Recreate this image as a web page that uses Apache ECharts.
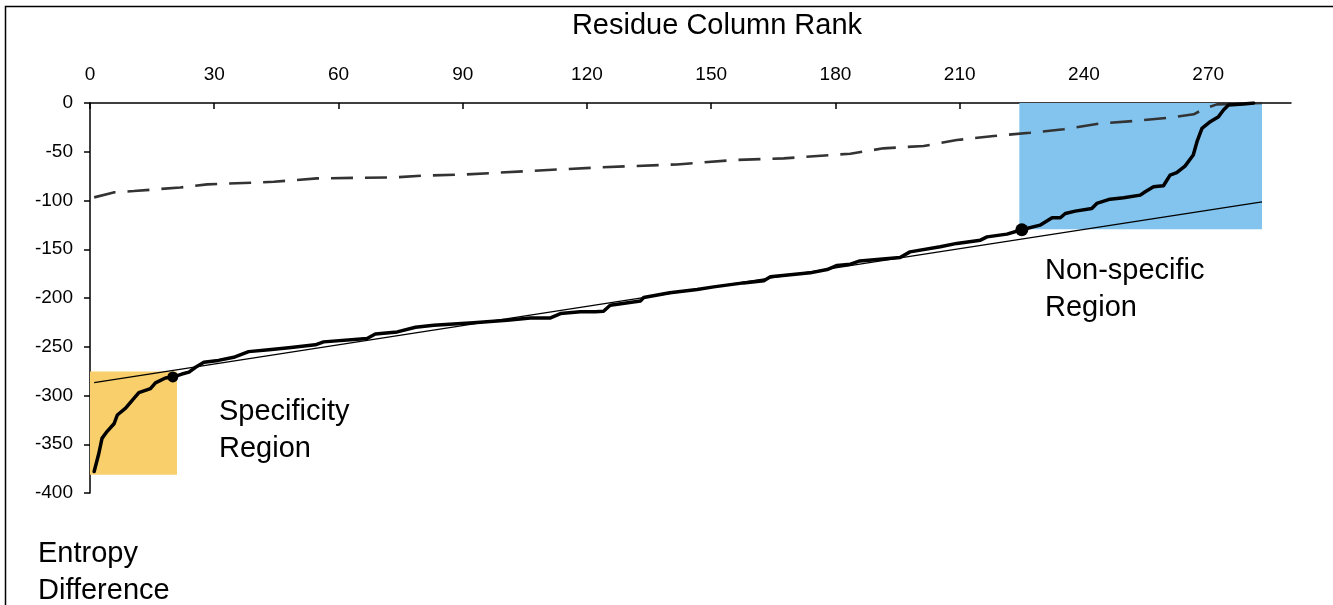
<!DOCTYPE html>
<html>
<head>
<meta charset="utf-8">
<script src="https://cdn.jsdelivr.net/npm/echarts@6/dist/echarts.min.js"></script>
<style>
html,body{margin:0;padding:0;background:#fff;}
#c{width:1333px;height:605px;}
</style>
</head>
<body>
<div id="c"></div>
<script>
// Thick curve: entropy difference vs residue column rank
const entropyCurve = [
  [1,-378],[2.1,-360],[2.9,-344],[4.1,-337],[5.8,-329],[6.6,-320],[8.6,-313],[10.6,-303],
  [11.8,-297],[14.6,-293],[15.8,-287],[18.2,-282],[20,-281],[22.2,-278],[23.9,-276],
  [25.5,-271],[27.5,-266],[31,-264],[35,-260.5],[38.3,-255],[43.2,-253],[48,-251],
  [54.4,-248],[56.4,-245],[66.9,-241.6],[68.9,-237],[74.2,-234.8],[78.6,-230],[83,-228],
  [92.6,-225.5],[100.7,-222.8],[106.3,-220.4],[111.2,-220.4],[113.6,-216],[118.4,-214],
  [122,-214],[124,-213.6],[125.6,-207.4],[132.9,-203],[133.7,-199.5],[140,-194.7],
  [146.6,-191.3],[150.6,-188.6],[157.8,-184.5],[162.7,-182.4],[164.3,-178.3],[173.9,-174.2],
  [178,-170.8],[180.4,-166.6],[183.6,-165.3],[185.9,-162],[195.6,-158.4],[198,-152.7],
  [205.3,-147.5],[209.3,-144],[215,-140.7],[216.6,-137.3],[221.4,-134.5],[225,-130],
  [229.4,-125.3],[232.3,-117.7],[234.3,-117.7],[235.5,-113.3],[237.9,-110.9],[241.9,-108.2],
  [243.1,-103],[246.3,-98.6],[249.6,-97.2],[253.6,-94.5],[254.8,-91],[256.8,-86],
  [259.2,-84.9],[260.8,-73.9],[262.4,-71.5],[264.4,-64.7],[266.4,-53.4],[267.3,-39.7],
  [268.5,-26],[270.5,-19.2],[272.5,-14],[273.7,-7.2],[274.9,-2],[278.5,-1],[281,0]
];
// Dashed curve
const dashedCurve = [
  [1,-96.8],[5.7,-91.7],[10.6,-90.3],[21.8,-86.6],[28.3,-83.5],[44.4,-80.8],[54.8,-77.3],
  [73.3,-76.3],[80.6,-74.5],[91,-73.2],[107.1,-69.5],[123.2,-66],[141.7,-63],[155.4,-58.5],
  [167.5,-56.8],[183.6,-52],[191.6,-46.5],[201.3,-44.1],[209.3,-38],[218.2,-33.9],
  [227,-30.5],[235.1,-27],[244,-20.9],[252,-18.5],[260.9,-15],[266.5,-11.6],[269.3,-5.4],
  [272.1,-1.4],[283,0]
];
// Thin straight reference line
const thinLine = [[1,-286.8],[283,-101.3]];
// Threshold points
const markerPoints = [[20,-281],[225,-130]];
// Regions
const specificityRegion = [[0,-275.3],[21,-381.2]];
const nonSpecificRegion = [[224.4,0],[283,-129.5]];
// Axis settings
const xTicks = [0,30,60,90,120,150,180,210,240,270];
const xMax = 290;
const yTicks = [0,-50,-100,-150,-200,-250,-300,-350,-400];

const chart = echarts.init(document.getElementById('c'));
const font = 'Liberation Sans, Arial, Helvetica, sans-serif';
chart.setOption({
  animation:false,
  backgroundColor:'#fff',
  grid:{left:90,top:103,width:1201,height:390,containLabel:false},
  xAxis:{
    type:'value',position:'top',min:0,max:xMax,interval:30,
    axisLine:{show:true,onZero:false,lineStyle:{color:'#000',width:1.5}},
    axisTick:{show:true,inside:true,length:6,lineStyle:{color:'#000',width:1.5}},
    axisLabel:{show:true,margin:19,fontSize:19,color:'#000',fontFamily:font,showMaxLabel:false,
      formatter:v=>xTicks.includes(v)?String(v):''},
    splitLine:{show:false}
  },
  yAxis:{
    type:'value',min:-400,max:0,interval:50,
    axisLine:{show:true,onZero:false,lineStyle:{color:'#000',width:1.5}},
    axisTick:{show:true,inside:false,length:6,lineStyle:{color:'#000',width:1.5}},
    axisLabel:{show:true,margin:17,fontSize:19,color:'#000',fontFamily:font,
      formatter:v=>yTicks.includes(v)?String(v):''},
    splitLine:{show:false}
  },
  series:[
    {type:'line',data:[],silent:true,
      markArea:{silent:true,itemStyle:{color:'#F8CF6A',opacity:1},
        data:[[{coord:specificityRegion[0]},{coord:specificityRegion[1]}]]}},
    {type:'line',data:[],silent:true,
      markArea:{silent:true,itemStyle:{color:'#82C4EE',opacity:1},
        data:[[{coord:nonSpecificRegion[0]},{coord:nonSpecificRegion[1]}]]}},
    {type:'line',data:dashedCurve,showSymbol:false,z:3,
      lineStyle:{color:'#333',width:2.6,type:[22,12]}},
    {type:'line',data:thinLine,showSymbol:false,z:3,
      lineStyle:{color:'#000',width:1.3}},
    {type:'line',data:entropyCurve,showSymbol:false,z:4,
      lineStyle:{color:'#000',width:3.5,join:'round',cap:'round'}},
    {type:'scatter',data:markerPoints,z:5,symbolSize:(v,p)=>p.dataIndex===0?11:13,
      itemStyle:{color:'#000',opacity:1}}
  ],
  graphic:[
    {type:'polyline',shape:{points:[[5.5,605],[5.5,6.5],[1333,6.5]]},style:{stroke:'#000',lineWidth:1.5,fill:null}},
    {type:'text',style:{text:'Residue Column Rank',x:717,y:26,align:'center',verticalAlign:'middle',font:'29px '+font,fill:'#000'}},
    {type:'text',style:{text:'Specificity\nRegion',x:219,y:393,lineHeight:37,font:'29px '+font,fill:'#000'}},
    {type:'text',style:{text:'Non-specific\nRegion',x:1045,y:252,lineHeight:37,font:'29px '+font,fill:'#000'}},
    {type:'text',style:{text:'Entropy\nDifference',x:38,y:535,lineHeight:37,font:'29px '+font,fill:'#000'}}
  ]
});
</script>
</body>
</html>
